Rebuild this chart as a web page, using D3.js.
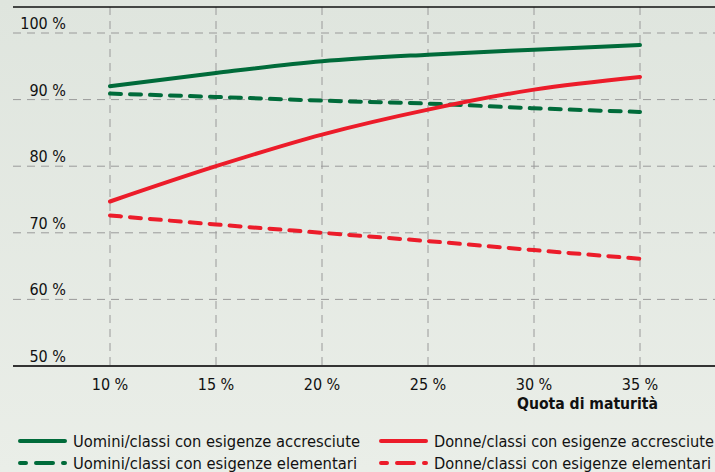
<!DOCTYPE html>
<html><head><meta charset="utf-8">
<script src="https://cdn.jsdelivr.net/npm/d3@7"></script>
<style>
html,body{margin:0;padding:0;}
svg{display:block;}
text{fill:#111;font-family:'DejaVu Sans Condensed','DejaVu Sans',sans-serif;}
</style></head>
<body>
<script>
const xValues = [10, 15, 20, 25, 30, 35];
const menHigh = [92.0, 94.0, 95.75, 96.75, 97.5, 98.2];
const menBasic = [90.9, 90.4, 89.85, 89.4, 88.7, 88.15];
const womenHigh = [74.7, 80.0, 84.75, 88.5, 91.5, 93.4];
const womenBasic = [72.6, 71.25, 70.0, 68.75, 67.4, 66.1];
const yTicks = [50, 60, 70, 80, 90, 100];
const xTickLabels = ["10 %", "15 %", "20 %", "25 %", "30 %", "35 %"];
const yTickLabels = ["50 %", "60 %", "70 %", "80 %", "90 %", "100 %"];
const seriesNames = [
  "Uomini/classi con esigenze accresciute",
  "Uomini/classi con esigenze elementari",
  "Donne/classi con esigenze accresciute",
  "Donne/classi con esigenze elementari"
];
const xTitle = "Quota di maturità";

(function () {
const W = 715, H = 472;
const GREEN = "#006b3a", RED = "#ec1c2a";
const FS = 16;

const svg = d3.select("body").append("svg").attr("width", W).attr("height", H);

const defs = svg.append("defs");
const grad = defs.append("linearGradient").attr("id","bg").attr("x1",0).attr("y1",0).attr("x2",0).attr("y2",1);
grad.append("stop").attr("offset","0%").attr("stop-color","#dfe5de");
grad.append("stop").attr("offset","100%").attr("stop-color","#eaeee8");
svg.append("rect").attr("width",W).attr("height",H).attr("fill","url(#bg)");

const x = d3.scaleLinear().domain([10, 35]).range([110, 640]);
const y = d3.scaleLinear().domain([50, 100]).range([366, 33]);
const plotLeft = 13, plotRight = W, plotTop = 7;

svg.append("g").selectAll("line").data(yTicks.filter(d => d > 50)).join("line")
  .attr("x1", plotLeft).attr("x2", plotRight).attr("y1", d => y(d)).attr("y2", d => y(d))
  .attr("stroke", "#9a9a9a").attr("stroke-width", 1).attr("stroke-dasharray", "8,6");
svg.append("g").selectAll("line").data(xValues).join("line")
  .attr("x1", d => x(d)).attr("x2", d => x(d)).attr("y1", plotTop).attr("y2", y(50))
  .attr("stroke", "#9a9a9a").attr("stroke-width", 1).attr("stroke-dasharray", "8,6");

svg.append("line").attr("x1", plotLeft).attr("x2", plotRight).attr("y1", plotTop).attr("y2", plotTop)
  .attr("stroke", "#111").attr("stroke-width", 1.6);
svg.append("line").attr("x1", plotLeft).attr("x2", plotRight).attr("y1", y(50)).attr("y2", y(50))
  .attr("stroke", "#333").attr("stroke-width", 1.8);

svg.append("g").selectAll("text").data(yTicks).join("text")
  .attr("x", 66).attr("y", d => y(d) - 4).attr("text-anchor", "end")
  .attr("font-size", FS).text((d, i) => yTickLabels[i]);

svg.append("g").selectAll("text").data(xValues).join("text")
  .attr("x", d => x(d)).attr("y", 390).attr("text-anchor", "middle")
  .attr("font-size", FS).text((d, i) => xTickLabels[i]);

svg.append("text").attr("x", 517).attr("y", 409)
  .attr("font-size", FS).attr("font-weight", "bold")
  .attr("textLength", 141).attr("lengthAdjust", "spacingAndGlyphs").text(xTitle);

const line = d3.line().x(d => x(d[0])).y(d => y(d[1])).curve(d3.curveMonotoneX);
const series = [
  {vals: menHigh, color: GREEN, dash: null},
  {vals: menBasic, color: GREEN, dash: "11,9"},
  {vals: womenHigh, color: RED, dash: null},
  {vals: womenBasic, color: RED, dash: "11,9"}
];
[1, 3, 0, 2].forEach(i => {
  const s = series[i];
  svg.append("path").datum(xValues.map((v, j) => [v, s.vals[j]]))
    .attr("d", line).attr("fill", "none").attr("stroke", s.color)
    .attr("stroke-width", 4).attr("stroke-linecap", "round")
    .attr("stroke-dasharray", s.dash);
});

const legendPos = [
  {x: 18, y: 441, tw: 287},
  {x: 18, y: 463, tw: 284},
  {x: 379, y: 441, tw: 280},
  {x: 379, y: 463, tw: 277}
];
series.forEach((s, i) => {
  const p = legendPos[i];
  svg.append("line").attr("x1", p.x + 2).attr("x2", p.x + 47).attr("y1", p.y).attr("y2", p.y)
    .attr("stroke", s.color).attr("stroke-width", 4).attr("stroke-linecap", "round")
    .attr("stroke-dasharray", s.dash ? "6,10,17,10,6,20" : null);
  svg.append("text").attr("x", p.x + 55).attr("y", p.y + 6)
    .attr("font-size", FS).attr("textLength", p.tw).attr("lengthAdjust", "spacingAndGlyphs")
    .text(seriesNames[i]);
});
})();
</script>
</body></html>
